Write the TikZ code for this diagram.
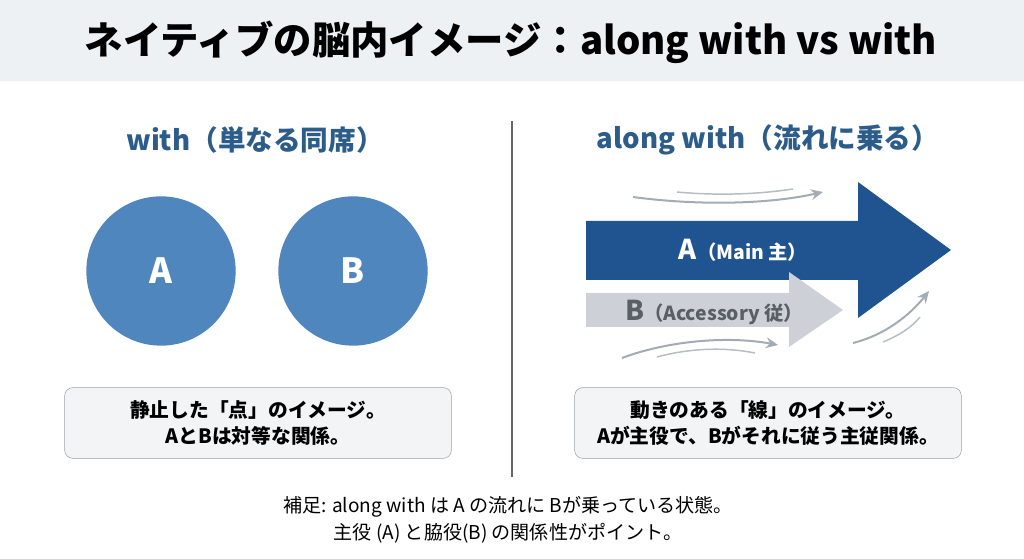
\documentclass[tikz,border=0pt]{standalone}
\usepackage{fontspec}
\setmainfont{Noto Sans CJK JP}
\usetikzlibrary{arrows.meta}

\definecolor{bandgray}{HTML}{EEF1F4}
\definecolor{headblue}{HTML}{2B5C8A}
\definecolor{dotblue}{HTML}{4F86BE}
\definecolor{mainblue}{HTML}{1F5490}
\definecolor{subgray}{HTML}{CDD1D7}
\definecolor{subtext}{HTML}{5A5F66}
\definecolor{boxfill}{HTML}{F2F4F6}
\definecolor{boxline}{HTML}{9AA0A6}
\definecolor{flowgray}{HTML}{A3ABB4}

\begin{document}
\begin{tikzpicture}[x=0.75pt,y=-0.75pt,
    heading/.style={text=headblue,font=\bfseries\fontsize{20.7}{24}\selectfont},
    dot/.style={circle,fill=dotblue,minimum size=112pt,inner sep=0pt,text=white,font=\bfseries\fontsize{26}{30}\selectfont},
    notebox/.style={draw=boxline,fill=boxfill,rounded corners=6pt,minimum width=290pt,minimum height=53pt,align=center,font=\bfseries\fontsize{14.8}{19.5}\selectfont},
    flow/.style={draw=flowgray,line width=1.5pt,-{Stealth[length=9pt,width=8pt]}},
    trail/.style={draw=flowgray!80,line width=1.1pt}]
    \useasboundingbox (0,0) rectangle (1024,559);
    \fill[bandgray] (0,0) rectangle (1024,81);
    \node (title) at (511,42) {\bfseries\fontsize{28.8}{34}\selectfont ネイティブの脳内イメージ：along with vs with};

    \coordinate (top) at (512,121);
    \coordinate (bottom) at (512,477);
    \draw[black!60, line width=0.9pt] (top) -- (bottom);

    % left side: with
    \node[heading] (with) at (255,140) {with（単なる同席）};
    \node[dot] (a) at (161,271) {A};
    \node[dot] (b) at (353,271) {B};
    \node[notebox] (static) at (258,423) {静止した「点」のイメージ。\\AとBは対等な関係。};

    % right side: along with
    \node[heading] (along) at (768,140) {along with（流れに乗る）};
    \fill[mainblue] (586,221) -- (858,221) -- (858,182) -- (951,250) -- (858,318) -- (858,280) -- (586,280) -- cycle;
    \fill[subgray] (586,293) -- (789,293) -- (789,272) -- (843,310) -- (789,347) -- (789,327) -- (586,327) -- cycle;
    \node[text=white,font=\bfseries] (main) at (743,250) {\fontsize{20.5}{24}\selectfont A\fontsize{14.5}{17}\selectfont（Main 主）};
    \node[text=subtext,font=\bfseries] (sub) at (714,312) {\fontsize{20.5}{24}\selectfont B\fontsize{14.5}{17}\selectfont（Accessory 従）};

    \draw[flow] (633,197) .. controls (700,206) and (770,204) .. (823,192);
    \draw[trail] (677,192) .. controls (720,196) and (760,194) .. (793,189);
    \draw[flow] (622,358) .. controls (670,340) and (730,336) .. (778,345);
    \draw[trail] (657,357) .. controls (690,348) and (725,347) .. (755,353);
    \draw[flow] (853,343) .. controls (885,335) and (910,315) .. (929,291);
    \draw[trail] (883,342) .. controls (900,335) and (912,327) .. (920,317);

    \node[notebox] (moving) at (768,423) {動きのある「線」のイメージ。\\Aが主役で、Bがそれに従う主従関係。};

    \node[align=center,font=\fontsize{14.3}{20}\selectfont] (note) at (508,520) {補足: along with は A の流れに Bが乗っている状態。\\主役 (A) と脇役(B) の関係性がポイント。};
\end{tikzpicture}
\end{document}
